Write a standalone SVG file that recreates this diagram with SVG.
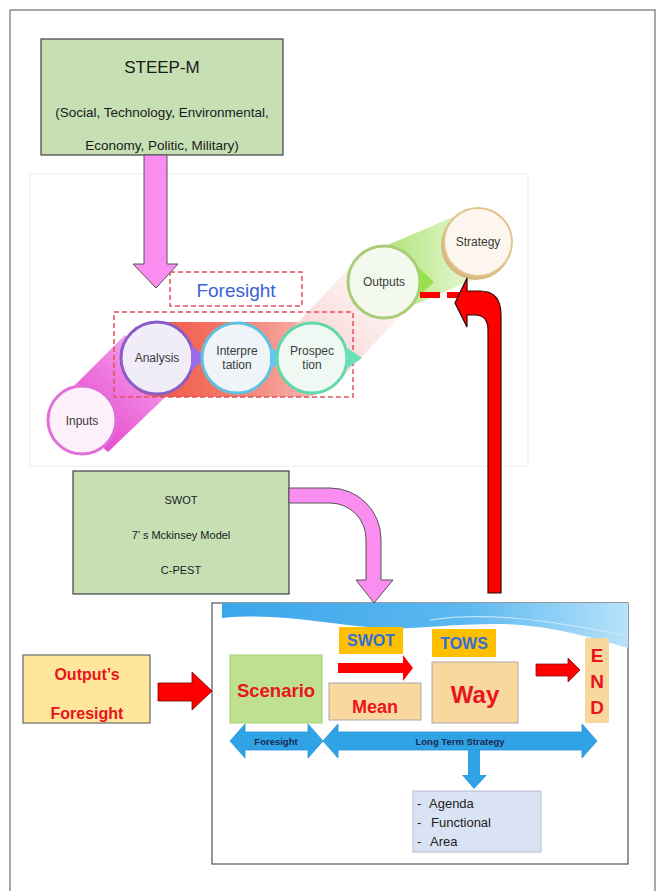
<svg xmlns="http://www.w3.org/2000/svg" width="656" height="891" viewBox="0 0 656 891">
<defs>
<style>
.t{font-family:"Liberation Sans",Arial,sans-serif}
.box{stroke:#404040;stroke-width:1.2}
.circ{stroke-width:3}
.ct{font-family:"Liberation Sans",Arial,sans-serif;font-size:12px;fill:#3a3a3a;text-anchor:middle}
.red{font-family:"Liberation Sans",Arial,sans-serif;font-weight:bold;fill:#e8141e;text-anchor:middle}
.blue{font-family:"Liberation Sans",Arial,sans-serif;font-weight:bold;fill:#2f6fd8;text-anchor:middle}
.dbl{fill:#2fa3e6;stroke:#2a8fd0;stroke-width:0.8}
.li{font-family:"Liberation Sans",Arial,sans-serif;font-size:13px;fill:#222222}
</style>
<linearGradient id="gPink" x1="0" y1="1" x2="1" y2="0">
<stop offset="0" stop-color="#e030c8"/>
<stop offset="0.6" stop-color="#f080e0"/>
<stop offset="1" stop-color="#fad0f4"/>
</linearGradient>
<linearGradient id="gRed" x1="0" y1="0" x2="1" y2="0">
<stop offset="0" stop-color="#f04a38"/>
<stop offset="0.5" stop-color="#f47a6a"/>
<stop offset="1" stop-color="#f8c8c8"/>
</linearGradient>
<linearGradient id="gPale" x1="0" y1="1" x2="1" y2="0">
<stop offset="0" stop-color="#f8c0c0"/>
<stop offset="1" stop-color="#fdf0f0" stop-opacity="0.3"/>
</linearGradient>
<linearGradient id="gGreen" x1="0" y1="0" x2="1" y2="0">
<stop offset="0" stop-color="#98dc50"/>
<stop offset="1" stop-color="#eefae0"/>
</linearGradient>
<linearGradient id="gWave" x1="0" y1="0" x2="1" y2="0">
<stop offset="0" stop-color="#3aa6ea"/>
<stop offset="0.6" stop-color="#5cb8f0"/>
<stop offset="1" stop-color="#b8e2fa"/>
</linearGradient>
</defs>

<rect x="0" y="0" width="656" height="891" fill="#ffffff"/>
<rect x="10" y="10" width="645" height="900" fill="none" stroke="#8c8c8c" stroke-width="1.5"/>

<g id="foresight-panel">
<rect x="30" y="174" width="498" height="292" fill="#ffffff" stroke="#ececec" stroke-width="1"/>
<polygon points="55,405 125,335 178,385 108,452" fill="url(#gPink)"/>
<rect x="122" y="322" width="218" height="75" rx="37" fill="url(#gRed)"/>
<polygon points="287,334 338,382 410,306 359,258" fill="url(#gPale)"/>
<polygon points="371,252 397,312 491,272 465,212" fill="url(#gGreen)" opacity="0.85"/>
<rect x="114" y="312" width="239" height="85" fill="none" stroke="#e05058" stroke-width="1.5" stroke-dasharray="5,3"/>
<rect x="170" y="272" width="132" height="34" fill="#ffffff" stroke="#e05058" stroke-width="1.5" stroke-dasharray="5,3"/>
<text x="236" y="297" class="t" font-size="19" fill="#3a62d6" text-anchor="middle">Foresight</text>
</g>

<g id="n-inputs">
<circle cx="82" cy="420" r="34" fill="#fdf0fb" stroke="#e070d8" class="circ"/>
<text x="82" y="425" class="ct" font-size="14">Inputs</text>
</g>
<g id="n-analysis">
<circle cx="157" cy="358" r="36" fill="#f0ecf8" stroke="#8a5cc8" class="circ"/>
<text x="157" y="362" class="ct">Analysis</text>
<polygon points="191,345 206,358 191,371" fill="#9a6ae8"/>
</g>
<g id="n-interpretation">
<circle cx="237" cy="358" r="35" fill="#eef4f8" stroke="#60c0e0" class="circ"/>
<text x="237" y="355" class="ct">Interpre</text>
<text x="237" y="369" class="ct">tation</text>
<polygon points="270,346 284,358 270,370" fill="#60c8f0"/>
</g>
<g id="n-prospection">
<circle cx="312" cy="358" r="35" fill="#f0f8f4" stroke="#60d8a8" class="circ"/>
<text x="312" y="355" class="ct">Prospec</text>
<text x="312" y="369" class="ct">tion</text>
<polygon points="346,347 362,358 346,369" fill="#68e0b8"/>
</g>
<g id="n-outputs">
<circle cx="384" cy="282" r="36" fill="#f4f9ee" stroke="#a8cc78" class="circ"/>
<text x="384" y="286" class="ct">Outputs</text>
<polygon points="419,268 434,282 419,296" fill="#98e050"/>
</g>
<g id="n-strategy">
<circle cx="476" cy="245" r="35" fill="#d8b880"/>
<circle cx="478" cy="242" r="34" fill="#fdf6ee" stroke="#e0c48c" stroke-width="2"/>
<text x="478" y="246" class="ct">Strategy</text>
</g>

<g id="n-steepm">
<rect x="41" y="39" width="242" height="116" fill="#c6e0b4" class="box"/>
<text x="162" y="73" class="t" font-size="17" fill="#1a1a1a" text-anchor="middle">STEEP-M</text>
<text x="162" y="117" class="t" font-size="13.5" fill="#1a1a1a" text-anchor="middle">(Social, Technology, Environmental,</text>
<text x="162" y="150" class="t" font-size="13.5" fill="#1a1a1a" text-anchor="middle">Economy, Politic, Military)</text>
</g>

<g id="n-tools">
<rect x="73" y="471" width="216" height="123" fill="#c6e0b4" class="box"/>
<text x="181" y="504" class="t" font-size="11" fill="#1a1a1a" text-anchor="middle">SWOT</text>
<text x="181" y="539" class="t" font-size="11" fill="#1a1a1a" text-anchor="middle">7’ s Mckinsey Model</text>
<text x="181" y="574" class="t" font-size="11" fill="#1a1a1a" text-anchor="middle">C-PEST</text>
</g>

<g id="n-outputs-foresight">
<rect x="23" y="655" width="127" height="68" fill="#ffe69a" stroke="#6a6a6a" stroke-width="1.2"/>
<text x="87" y="680" class="red" font-size="16">Output’s</text>
<text x="87" y="719" class="red" font-size="16">Foresight</text>
</g>

<g id="n-strategy-frame">
<rect x="212" y="603" width="416" height="261" fill="#ffffff" stroke="#555555" stroke-width="1.2"/>
<path d="M222,603 L628,603 L628,648 C600,640 560,628 520,625 C470,621 420,630 380,628 C330,625 280,612 222,618 Z" fill="url(#gWave)"/>
<path d="M430,620 C480,612 540,618 628,636" fill="none" stroke="#d6eefc" stroke-width="1.2" opacity="0.8"/>
</g>
<g id="n-scenario">
<rect x="230" y="655" width="92" height="68" fill="#bfe08e" stroke="#a6cc78" stroke-width="1"/>
<text x="276" y="697" class="red" font-size="18.5">Scenario</text>
</g>
<g id="n-swot-label">
<rect x="339" y="627" width="64" height="27" fill="#ffc000"/>
<text x="371" y="646" class="blue" font-size="16">SWOT</text>
</g>
<g id="n-mean">
<rect x="329" y="683" width="92" height="37" fill="#f9d89e" stroke="#a8a8a8" stroke-width="1"/>
<text x="375" y="713" class="red" font-size="18">Mean</text>
</g>
<g id="n-tows-label">
<rect x="432" y="629" width="64" height="28" fill="#ffc000"/>
<text x="464" y="649" class="blue" font-size="16">TOWS</text>
</g>
<g id="n-way">
<rect x="432" y="662" width="86" height="61" fill="#f9d89e" stroke="#a8a8a8" stroke-width="1"/>
<text x="475" y="703" class="red" font-size="24">Way</text>
</g>
<g id="n-end">
<rect x="585" y="638" width="24" height="85" fill="#f9d89e"/>
<text x="597" y="662" class="red" font-size="19">E</text>
<text x="597" y="688" class="red" font-size="19">N</text>
<text x="597" y="714" class="red" font-size="19">D</text>
</g>
<g id="n-foresight-span">
<polygon class="dbl" points="230,741 245,724 245,732 308,732 308,724 323,741 308,758 308,750 245,750 245,758"/>
<text x="276" y="744.5" class="t" font-size="9.5" font-weight="bold" fill="#1a2a50" text-anchor="middle">Foresight</text>
</g>
<g id="n-longterm-span">
<polygon class="dbl" points="323,741 338,724 338,732 582,732 582,724 597,741 582,758 582,750 338,750 338,758"/>
<text x="460" y="744.5" class="t" font-size="9.5" font-weight="bold" fill="#1a2a50" text-anchor="middle">Long Term Strategy</text>
</g>
<g id="n-agenda">
<rect x="413" y="791" width="128" height="61" fill="#dae3f3" stroke="#b4bccf" stroke-width="1"/>
<text x="417" y="808" class="li">-</text><text x="429" y="808" class="li">Agenda</text>
<text x="417" y="827" class="li">-</text><text x="431" y="827" class="li">Functional</text>
<text x="417" y="846" class="li">-</text><text x="430" y="846" class="li">Area</text>
</g>

<g id="connectors">
<path d="M144,155 L167,155 L167,264 L178,264 L156,288 L133,264 L144,264 Z" fill="#f98ef0" stroke="#555555" stroke-width="1"/>
<path d="M289,488 L330,488 A51,51 0 0 1 381,539 L381,580 L393,580 L374,603 L356,580 L366,580 L366,539 A36,36 0 0 0 330,503 L289,503 Z" fill="#f98ef0" stroke="#555555" stroke-width="1"/>
<line x1="420" y1="295" x2="462" y2="295" stroke="#ff0000" stroke-width="6" stroke-dasharray="20,7"/>
<path d="M488,593 L488,330 Q488,315 475,315 L467,315 L467,327 L455,303 L467,278 L467,291 L480,291 Q501,291 501,315 L501,593 Z" fill="#ff0000" stroke="#2a0a0a" stroke-width="1.2"/>
<polygon points="158,683 192,683 192,672 212,691 192,710 192,701 158,701" fill="#ff0000" stroke="#7a0000" stroke-width="0.8"/>
<polygon points="338,663 403,663 403,655 413,668 403,681 403,673 338,673" fill="#ff0000"/>
<polygon points="536,664 568,664 568,658 580,670 568,682 568,676 536,676" fill="#ff0000" stroke="#8a1010" stroke-width="0.8"/>
<polygon points="468,750 480,750 480,775 487,775 474,789 462,775 468,775" fill="#2fa3e6"/>
</g>
</svg>
